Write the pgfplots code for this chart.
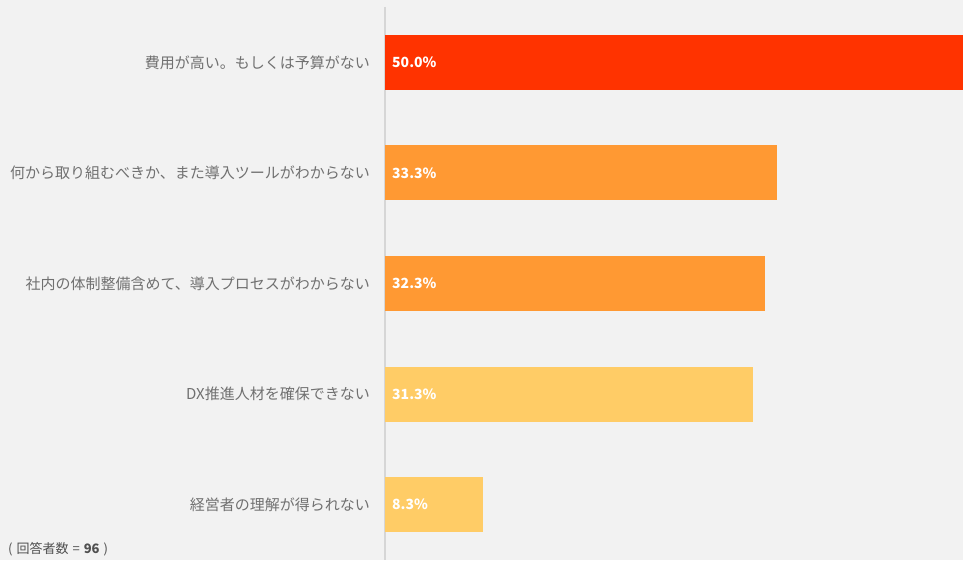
\documentclass[border=0pt]{standalone}
\usepackage{pgfplots}
\pgfplotsset{compat=1.18}
\usepackage{fontspec}
\setmainfont{Noto Sans CJK JP}
\definecolor{bg}{HTML}{F2F2F2}
\definecolor{c1}{HTML}{FF3300}
\definecolor{c2}{HTML}{FF9933}
\definecolor{c3}{HTML}{FFCC66}
\definecolor{lab}{HTML}{707070}
\definecolor{axisc}{HTML}{D6D6D6}
\definecolor{foot}{HTML}{505050}
\begin{document}
\begin{tikzpicture}[x=1bp,y=1bp]
\fill[bg] (0,0) rectangle (963,560);
\begin{axis}[
  at={(385bp,0bp)}, anchor=south west,
  scale only axis, width=578bp, height=553bp,
  xmin=0, xmax=49.1, ymin=-0.5, ymax=4.5, y dir=reverse,
  axis x line=none, axis y line*=left,
  y axis line style={draw=axisc, line width=1.3bp, -},
  ytick={0,1,2,3,4},
  yticklabels={費用が高い。もしくは予算がない,何から取り組むべきか、また導入ツールがわからない,社内の体制整備含めて、導入プロセスがわからない,DX推進人材を確保できない,経営者の理解が得られない},
  major tick length=0pt,
  ytick style={draw=none},
  yticklabel style={font=\fontsize{15bp}{18bp}\selectfont, text=lab, inner sep=0pt, xshift=-15bp},
]
\addplot[xbar, bar width=55bp, bar shift=0pt, fill=c1, draw=none] coordinates {(50.0,0)};
\addplot[xbar, bar width=55bp, bar shift=0pt, fill=c2, draw=none] coordinates {(33.3,1)};
\addplot[xbar, bar width=55bp, bar shift=0pt, fill=c2, draw=none] coordinates {(32.3,2)};
\addplot[xbar, bar width=55bp, bar shift=0pt, fill=c3, draw=none] coordinates {(31.3,3)};
\addplot[xbar, bar width=55bp, bar shift=0pt, fill=c3, draw=none] coordinates {(8.3,4)};
\addplot[draw=none, mark=none, point meta=explicit symbolic,
  nodes near coords={\pgfplotspointmeta\%},
  nodes near coords style={anchor=west, inner sep=0pt, xshift=7bp, text=white, font=\fontsize{14bp}{16bp}\selectfont\bfseries}]
  table[x=x, y=y, meta=v] {
x y v
0 0 50.0
0 1 33.3
0 2 32.3
0 3 31.3
0 4 8.3
};
\end{axis}
\node[anchor=base west, inner sep=0pt, text=foot, font=\fontsize{13bp}{15bp}\selectfont] at (8,6) {(\hspace{4bp}回答者数\hspace{4bp}=\hspace{4bp}\textbf{96}\hspace{4bp})};
\end{tikzpicture}
\end{document}
